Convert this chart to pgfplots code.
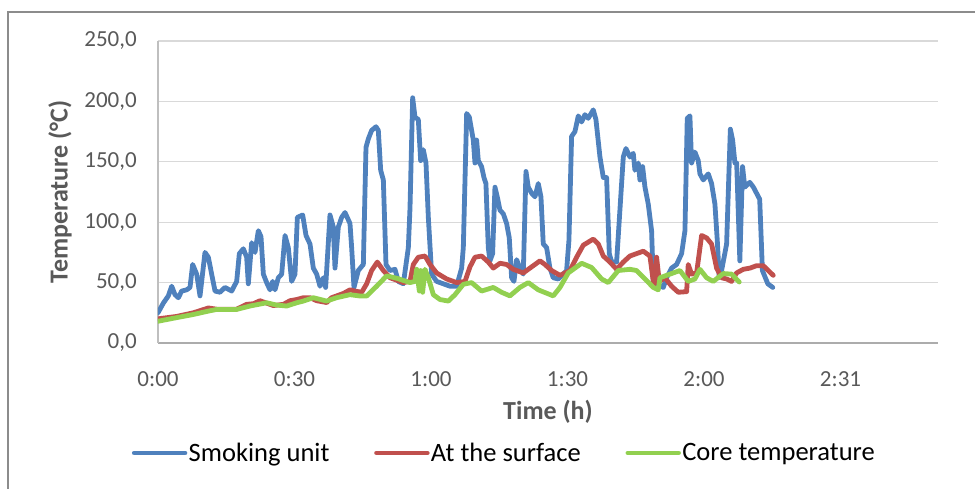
\documentclass[border=0pt]{standalone}
\usepackage{pgfplots}
\pgfplotsset{compat=1.18}
\usepackage{fontspec}
\setmainfont{Carlito}
\definecolor{sblue}{HTML}{4F81BD}
\definecolor{sred}{HTML}{C0504D}
\definecolor{sgreen}{HTML}{92D050}
\definecolor{gridgray}{HTML}{D9D9D9}
\definecolor{axisgray}{HTML}{BFBFBF}
\definecolor{ticktext}{HTML}{595959}
\definecolor{bordergray}{HTML}{8C8C8C}
\begin{document}
\begin{tikzpicture}
\useasboundingbox (0pt,0pt) rectangle (731.25pt,366.75pt);
\draw[color=bordergray, line width=1.4pt] (6pt,-5pt) -- (6pt,357.75pt) -- (740pt,357.75pt);
\begin{axis}[
  at={(118.5pt,109.5pt)}, anchor=south west,
  scale only axis, width=585pt, height=226.5pt,
  xmin=0, xmax=172.8, ymin=0, ymax=250,
  xtick={0,30.24,60.48,90.72,120.96,151.2},
  xticklabels={0:00,0:30,1:00,1:30,2:00,2:31},
  ytick={0,50,100,150,200,250},
  yticklabels={{0,0},{50,0},{100,0},{150,0},{200,0},{250,0}},
  major tick length=0pt,
  ymajorgrids, grid style={color=gridgray, line width=0.9pt},
  axis lines*=left,
  x axis line style={color=axisgray!90!black, line width=1.6pt},
  y axis line style={color=axisgray, line width=1pt},
  tick label style={font=\fontsize{17.25}{20}\selectfont, text=ticktext},
  xticklabel style={anchor=center, yshift=-27pt},
  yticklabel style={anchor=east, inner sep=0pt, xshift=-15.75pt},
  xlabel={Time (h)}, ylabel={Temperature (°C)},
  xlabel style={at={(axis description cs:0.5,-0.228)}, anchor=center, font=\bfseries\fontsize{19.5}{22}\selectfont, text=ticktext},
  ylabel style={at={(axis description cs:-0.1256,0.5)}, anchor=center, font=\bfseries\fontsize{19.5}{22}\selectfont, text=ticktext},
  legend columns=3,
  legend style={at={(0.4436,-0.364)}, anchor=center, draw=none, fill=none,
    font=\fontsize{19.9}{22}\selectfont, nodes={inner sep=1pt},
    /tikz/every even column/.append style={column sep=32.5pt}},
  legend image code/.code={\draw[#1] (0pt,0pt) -- (38pt,0pt);},
  every axis plot/.append style={line width=3.6pt, line join=round, line cap=round},
]
\addplot[color=sblue] coordinates {
(0,25) (1.18,33) (2.29,39) (3.03,47) (3.77,40) (4.51,37.5) (5.24,43) (6.35,44) (7.09,46) (7.68,65)
(8.57,57) (9.31,39) (10.41,75) (11.15,71) (11.89,57) (12.63,43) (13.74,42) (14.84,46) (16.32,43) (17.43,51)
(18.02,74) (18.91,78) (19.64,71) (20.01,49) (20.75,83) (21.49,75) (22.23,93) (22.82,88) (23.34,57) (24.07,50)
(24.81,44) (25.40,51) (25.92,44) (26.66,54) (27.40,57) (28.14,89) (28.87,79) (29.61,51) (30.35,57) (30.87,104)
(32.05,106) (32.79,89) (33.67,82) (34.41,62) (35.15,57) (35.89,47) (36.63,54) (37.14,46) (38.10,106) (38.84,96)
(39.21,62) (39.95,96) (40.69,104) (41.43,108) (42.53,99) (42.90,79) (43.42,46) (44.38,60) (45.49,65) (46.08,162)
(46.60,169) (47.33,176) (48.29,179) (48.81,176) (49.33,143) (49.92,135) (50.51,65) (51.40,60) (52.50,61) (53.24,51)
(54.35,49) (55.46,79) (55.83,112) (56.42,203) (56.93,187) (57.67,185) (58.19,151) (58.78,160) (59.37,149) (59.89,104)
(60.62,57) (61.73,51) (63.21,49) (64.69,47) (66.16,47) (67.27,62) (67.64,79) (68.38,190) (68.97,187) (69.85,168)
(70.22,149) (70.59,168) (70.96,151) (71.69,146) (72.21,137) (72.65,132) (73.17,79) (73.54,68) (74.13,74) (74.65,129)
(75.16,121) (75.76,110) (76.49,107) (77.23,99) (77.82,87) (78.34,54) (78.86,51) (79.45,69) (80.19,62) (80.92,57)
(81.52,142) (82.03,129) (82.77,124) (83.51,121) (84.25,132) (84.84,121) (85.35,82) (86.09,79) (86.83,62) (87.57,54)
(88.68,53) (89.78,57) (90.52,60) (91.04,85) (91.63,171) (92.37,175) (93.11,188) (93.85,183) (94.58,189) (95.32,186)
(96.43,193) (97.02,185) (97.91,154) (98.65,137) (99.38,137) (99.98,74) (100.49,67) (101.60,67) (103.08,154) (103.67,161)
(104.55,154) (105.29,157) (105.66,143) (106.40,149) (106.77,135) (107.36,146) (107.88,129) (108.61,115) (109.35,93) (109.72,51)
(111.94,46) (112.68,54) (113.78,62) (114.89,65) (116.00,74) (116.74,93) (117.25,186) (117.84,188) (118.21,149) (118.95,158)
(119.69,151) (120.06,140) (120.80,135) (121.91,140) (122.64,132) (123.38,115) (123.90,85) (124.34,54) (124.86,60) (125.97,82)
(126.8,177) (127.30,168) (127.81,149) (128.2,149) (128.9,68) (129.5,146) (130.0,129) (131.1,133) (131.9,129) (132.6,124)
(133.3,119) (133.9,60) (135.1,49) (136.2,46)
};
\addlegendentry{Smoking unit}
\addplot[color=sred] coordinates {
(0,20) (4.14,22) (7.83,25) (11.15,29) (13.0,28) (17.43,28) (19.64,32) (21.12,32.5) (22.6,35) (23.7,33.5)
(25.55,31) (27.77,32) (29.24,35) (30.72,36) (32.2,37.5) (33.67,37.5) (35.15,35) (37.36,33.5) (38.47,37.5) (39.58,39)
(41.06,41) (42.53,44) (43.64,43) (45.12,42) (46.23,49) (47.33,60) (48.59,67) (49.92,60) (51.4,54) (54.35,50)
(55.83,51) (56.56,65) (57.67,71) (59.15,72) (60.26,65) (61.73,58) (63.95,53) (66.16,50) (68.01,51) (69.11,63)
(70.22,71) (71.69,72) (73.17,67) (74.28,62) (75.76,66) (77.23,65) (78.71,61) (80.92,58) (82.4,62) (84.62,68)
(85.72,65) (87.2,60) (89.05,56) (91.26,60) (92.74,71) (94.22,81) (96.43,86) (97.54,82) (98.65,72) (100.12,67)
(101.6,61) (103.08,67) (104.55,72) (107.51,76) (108.98,72) (109.72,51) (110.09,49) (110.46,71) (111.05,51) (112.3,54)
(113.78,47) (115.26,42) (117.11,42.5) (117.47,65) (118.21,57) (119.32,58) (120.43,89) (121.54,87) (122.64,82) (123.75,62)
(124.86,54) (125.97,53) (127.07,51) (128.18,58) (129.66,61) (131.14,62) (132.61,64) (134.09,64) (135.2,60) (136.3,56)
};
\addlegendentry{At the surface}
\addplot[color=sgreen] coordinates {
(0,18) (4.14,21) (7.83,23.6) (11.15,26.4) (13.0,27.8) (17.43,27.8) (20.38,30.6) (24.07,33.3) (26.29,31.4) (28.5,30.6)
(30.72,33.3) (32.2,34.7) (34.41,37.5) (37.36,34.7) (39.58,37.5) (42.53,40) (44.75,38.9) (46.23,38.9) (48.44,47) (50.66,55.6)
(52.87,53.6) (55.83,50) (56.93,51) (57.3,61) (57.89,43) (58.19,60) (58.63,42) (59.15,61) (59.89,54) (61.0,40)
(62.47,36) (64.32,34.7) (65.8,40) (67.64,48.6) (69.48,50) (71.69,43) (74.28,46) (76.12,42) (77.97,39) (80.19,46)
(82.03,50) (84.25,44) (87.57,39) (89.05,46) (90.89,58) (93.85,66) (96.06,62.5) (98.28,53) (99.75,50) (101.97,60)
(104.55,61) (106.03,60) (107.88,53) (109.72,46) (110.83,44) (111.2,54) (113.41,57) (115.63,60) (117.47,51) (118.95,53)
(120.06,61) (121.54,54) (123.01,51) (125.23,57.5) (127.07,57) (128.77,50.5)
};
\addlegendentry{Core temperature}
\end{axis}
\end{tikzpicture}
\end{document}
